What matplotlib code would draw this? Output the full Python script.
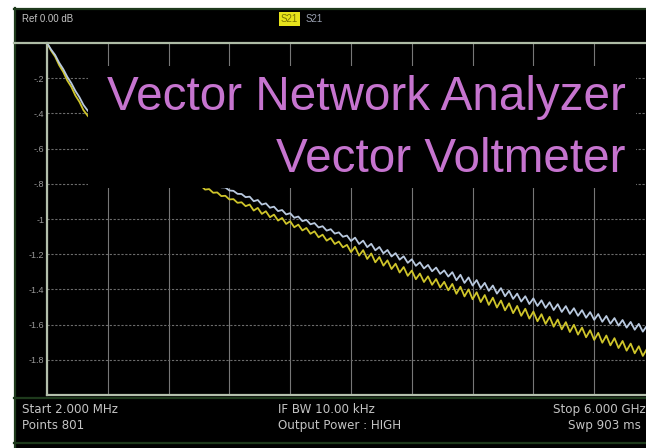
import numpy as np
import matplotlib
matplotlib.use("Agg")
import matplotlib.pyplot as plt
from matplotlib.patches import Rectangle
from matplotlib.lines import Line2D

# sweep settings
start_ghz = 0.002
stop_ghz = 6.0
db_ticks = [-0.2, -0.4, -0.6, -0.8, -1.0, -1.2, -1.4, -1.6, -1.8]
db_tick_labels = ["-.2", "-.4", "-.6", "-.8", "-1", "-1.2", "-1.4", "-1.6", "-1.8"]

# S21 traces, dB (151 samples across the sweep)
s21_yellow = [
    0.000, -0.043, -0.077, -0.126, -0.164, -0.213, -0.249, -0.298, -0.334, -0.382,
    -0.412, -0.439, -0.454, -0.481, -0.496, -0.523, -0.533, -0.555, -0.565, -0.587,
    -0.597, -0.617, -0.625, -0.645, -0.653, -0.676, -0.676, -0.700, -0.700, -0.724,
    -0.724, -0.747, -0.746, -0.769, -0.768, -0.791, -0.790, -0.813, -0.811, -0.833,
    -0.830, -0.851, -0.849, -0.870, -0.868, -0.889, -0.887, -0.908, -0.905, -0.927,
    -0.918, -0.952, -0.937, -0.971, -0.956, -0.990, -0.975, -1.009, -0.994, -1.028,
    -1.013, -1.047, -1.032, -1.065, -1.051, -1.084, -1.070, -1.104, -1.089, -1.123,
    -1.108, -1.142, -1.128, -1.161, -1.147, -1.188, -1.158, -1.208, -1.177, -1.227,
    -1.196, -1.246, -1.216, -1.265, -1.235, -1.284, -1.254, -1.304, -1.273, -1.323,
    -1.293, -1.342, -1.310, -1.358, -1.326, -1.374, -1.341, -1.389, -1.357, -1.405,
    -1.369, -1.425, -1.385, -1.440, -1.400, -1.456, -1.416, -1.472, -1.432, -1.488,
    -1.447, -1.503, -1.463, -1.519, -1.479, -1.535, -1.494, -1.550, -1.510, -1.566,
    -1.526, -1.581, -1.541, -1.596, -1.556, -1.612, -1.571, -1.627, -1.586, -1.642,
    -1.601, -1.657, -1.617, -1.672, -1.632, -1.687, -1.647, -1.703, -1.662, -1.718,
    -1.677, -1.733, -1.693, -1.748, -1.708, -1.763, -1.723, -1.778, -1.738, -1.794,
    -1.753,
]
s21_blue = [
    0.000, -0.037, -0.068, -0.112, -0.148, -0.192, -0.228, -0.272, -0.308, -0.352,
    -0.383, -0.408, -0.425, -0.450, -0.467, -0.492, -0.504, -0.524, -0.536, -0.556,
    -0.568, -0.586, -0.596, -0.614, -0.624, -0.644, -0.648, -0.668, -0.672, -0.692,
    -0.696, -0.713, -0.714, -0.731, -0.732, -0.748, -0.749, -0.766, -0.767, -0.784,
    -0.785, -0.802, -0.803, -0.820, -0.821, -0.838, -0.840, -0.857, -0.858, -0.876,
    -0.873, -0.899, -0.892, -0.918, -0.911, -0.936, -0.930, -0.955, -0.949, -0.974,
    -0.967, -0.993, -0.986, -1.012, -1.005, -1.030, -1.023, -1.048, -1.041, -1.066,
    -1.058, -1.083, -1.076, -1.101, -1.094, -1.125, -1.106, -1.142, -1.123, -1.160,
    -1.141, -1.178, -1.159, -1.195, -1.176, -1.213, -1.194, -1.231, -1.212, -1.249,
    -1.229, -1.266, -1.246, -1.281, -1.261, -1.297, -1.276, -1.312, -1.292, -1.327,
    -1.302, -1.348, -1.317, -1.363, -1.332, -1.378, -1.347, -1.393, -1.363, -1.408,
    -1.378, -1.424, -1.393, -1.439, -1.408, -1.454, -1.424, -1.469, -1.439, -1.483,
    -1.451, -1.494, -1.462, -1.505, -1.473, -1.517, -1.484, -1.528, -1.495, -1.539,
    -1.507, -1.550, -1.518, -1.561, -1.529, -1.573, -1.540, -1.584, -1.551, -1.595,
    -1.563, -1.606, -1.574, -1.617, -1.585, -1.629, -1.596, -1.640, -1.607, -1.651,
    -1.619,
]

W, H = 646, 448
plt.rcParams["font.family"] = ["Liberation Sans", "DejaVu Sans"]


def fx(x):
    return x / W


def fy(y):
    return 1 - y / H


fig = plt.figure(figsize=(W / 100, H / 100), dpi=100)
fig.patch.set_facecolor("white")

# instrument screen (drawn beneath the axes)
fig.patches.append(Rectangle((fx(14), 0), 1, fy(8), transform=fig.transFigure,
                             facecolor="black", edgecolor="none", zorder=-10))
frame = "#1e3a1c"
for xs, ys in [([14, 646], [9, 9]), ([15, 15], [8, 448]),
               ([14, 646], [398, 398]), ([14, 646], [443, 443])]:
    fig.add_artist(Line2D([fx(v) for v in xs], [fy(v) for v in ys],
                          color=frame, lw=1.6, transform=fig.transFigure))
fig.add_artist(Line2D([fx(14), fx(646)], [fy(43), fy(43)], color="#aebca6",
                      lw=1.6, transform=fig.transFigure, zorder=6))

ax = fig.add_axes([fx(47), fy(395), 608 / W, 352 / H])
ax.set_facecolor("none")
freq = np.linspace(start_ghz, stop_ghz, len(s21_yellow))

ax.plot(freq, s21_yellow, color="#cfc52a", lw=1.3, zorder=3)
ax.plot(freq, s21_blue, color="#b9c9df", lw=1.3, zorder=3)

ax.set_xlim(start_ghz, stop_ghz)
ax.set_ylim(-2, 0)
ax.set_xticks(np.linspace(start_ghz, stop_ghz, 11))
ax.set_xticklabels([])
ax.set_yticks(db_ticks)
ax.set_yticklabels(db_tick_labels, color="#9a9a9a", fontsize=6.5)
ax.tick_params(length=0, pad=2)
ax.grid(axis="y", color="#6c6c6c", lw=0.8, linestyle=(0, (2, 1.5)), zorder=1)
ax.grid(axis="x", color="#777777", lw=0.8, linestyle="-", zorder=1)
for side in ["left", "bottom"]:
    ax.spines[side].set_color("#b4c0ac")
    ax.spines[side].set_linewidth(1.6)
ax.spines["top"].set_visible(False)
ax.spines["right"].set_visible(False)

# caption panel over the trace
ax.add_patch(Rectangle((0.0674, 0.588), 0.902, 0.347, transform=ax.transAxes,
                       facecolor="black", edgecolor="none", zorder=4))
purple = "#c674cf"
fig.text(fx(626), fy(110), "Vector Network Analyzer", color=purple,
         fontsize=34.3, ha="right", va="baseline", zorder=5)
fig.text(fx(626), fy(172), "Vector Voltmeter", color=purple,
         fontsize=34.3, ha="right", va="baseline", zorder=5)

# header / footer annotations
grey = "#c4c4c4"
head = dict(fontsize=7, va="baseline")
foot = dict(fontsize=8.6, family="DejaVu Sans", va="baseline")
fig.text(fx(22), fy(22), "Ref 0.00 dB", color=grey, **head)
fig.text(fx(281), fy(22), "S21", color="#7a7400",
         bbox=dict(facecolor="#e6e21c", edgecolor="none", pad=1.2), **head)
fig.text(fx(306), fy(22), "S21", color="#9aa0b0", **head)

fig.text(fx(22), fy(413), "Start 2.000 MHz", color=grey, **foot)
fig.text(fx(22), fy(429), "Points 801", color=grey, **foot)
fig.text(fx(278), fy(413), "IF BW 10.00 kHz", color=grey, **foot)
fig.text(fx(278), fy(429), "Output Power : HIGH", color=grey, **foot)
fig.text(fx(553), fy(413), "Stop 6.000 GHz", color=grey, **foot)
fig.text(fx(568), fy(429), "Swp 903 ms", color=grey, **foot)

fig.savefig("out.png", dpi=100, facecolor=fig.get_facecolor())
